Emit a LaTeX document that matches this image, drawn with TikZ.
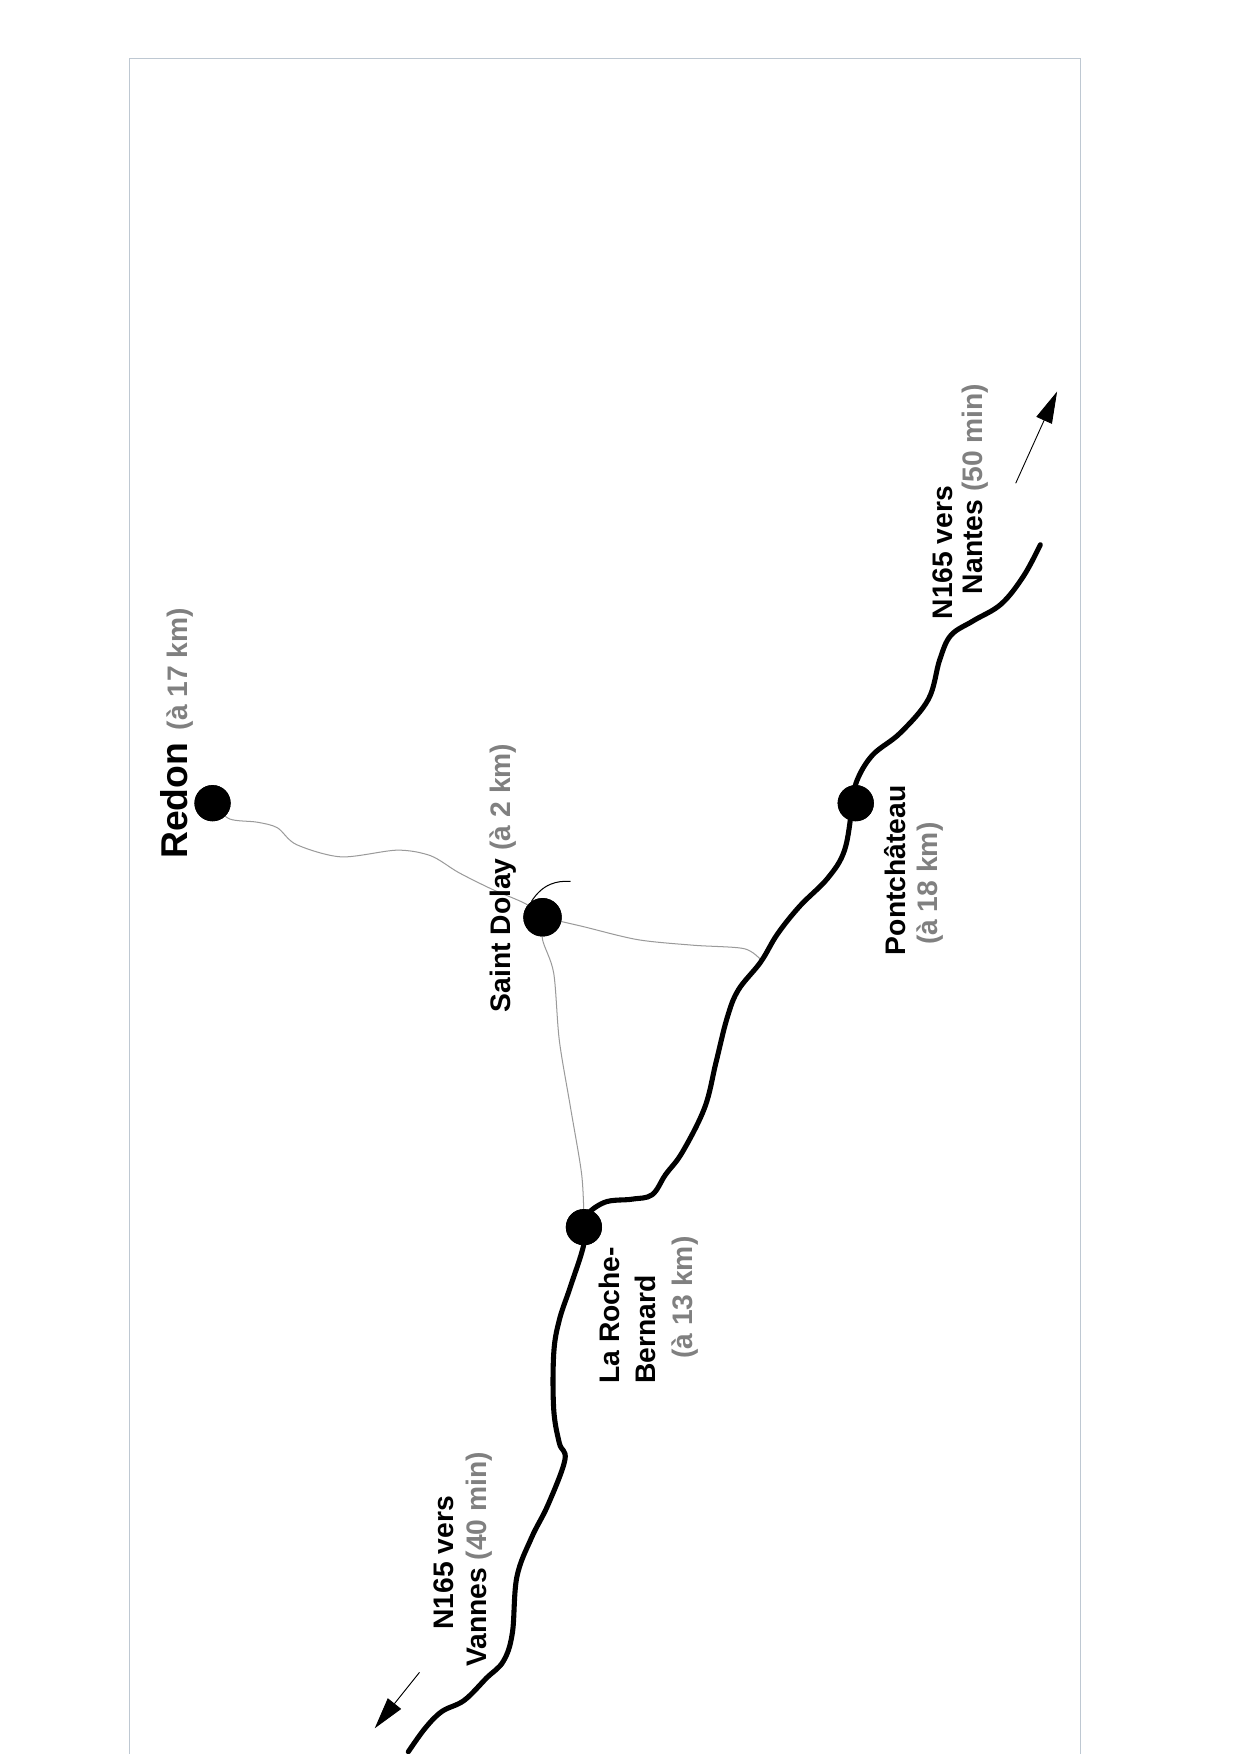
\documentclass[tikz,border=0pt]{standalone}
\usepackage{fontspec}
\setmainfont{Liberation Sans}
\usetikzlibrary{arrows.meta}
\definecolor{gr}{RGB}{128,128,128}
\definecolor{frame}{RGB}{190,200,210}
\begin{document}
\begin{tikzpicture}[x=0.99pt,y=-0.99pt,
  lbl/.style={rotate=90,font=\bfseries\fontsize{25}{29}\selectfont,inner sep=0},
  town/.style={circle,fill=black,minimum size=32pt,inner sep=0},
  mainroad/.style={line width=4.5pt,line cap=round,line join=round},
  minor/.style={gr!80,line width=0.9pt},
  dirarrow/.style={-{Triangle[length=28pt,width=15pt]},line width=0.8pt}]
\useasboundingbox (0,0) rectangle (1108,1568);
\draw[frame,line width=1pt] (116,52) rectangle (966,1580);
\node[town] (pc) at (765,718) {};
\node[town] (lrb) at (522,1097) {};
\node[town] (redon) at (190,718) {};
\node[town,minimum size=34pt] (sd) at (485,820) {};
\draw[minor] plot[smooth] coordinates {(190,718)(205,732)(230,735)(248,740)(265,755)(305,766)(355,760)(385,765)(410,780)(440,795)(470,808)(485,820)};
\draw[minor] plot[smooth] coordinates {(485,820)(520,828)(570,840)(620,845)(665,848)(680,858)};
\draw[minor] plot[smooth] coordinates {(485,820)(485,840)(495,870)(500,930)(510,990)(520,1050)(522,1090)};
\draw[black,line width=0.9pt] (475,806) .. controls (485,790) and (498,787) .. (510,788);
\draw[mainroad] plot[smooth,tension=0.6] coordinates {(930,487)(915,515)(895,540)(870,555)(850,568)(840,590)(830,625)(805,655)(780,675)(766,698)(762,720)(755,760)(740,785)(715,810)(695,835)(680,860)(660,885)(650,910)(640,950)(630,990)(610,1030)(595,1050)(583,1068)(565,1072)(540,1075)(522,1090)(522,1112)(510,1150)(500,1180)(495,1210)(495,1260)(500,1290)(505,1305)(490,1345)(475,1375)(462,1410)(458,1460)(450,1485)(435,1500)(415,1520)(395,1530)(380,1545)(365,1566)};
\node[town] at (pc) {};
\node[town] at (lrb) {};
\node[town] at (redon) {};
\node[town,minimum size=34pt] at (sd) {};
% labels
\node[lbl,anchor=west] (lredon) at (158,768) {{\fontsize{33}{37}\selectfont Redon}\, \textcolor{gr}{(à 17 km)}};
\node[lbl,anchor=west] (lsd) at (450,905) {Saint Dolay \textcolor{gr}{(à 2 km)}};
\node[lbl] (lpc1) at (800,778) {Pontchâteau};
\node[lbl,text=gr] (lpc2) at (831,790) {(à 18 km)};
\node[lbl,anchor=west] (llrb1) at (545,1237) {La Roche-};
\node[lbl,anchor=west] (llrb2) at (577,1237) {Bernard};
\node[lbl,anchor=west,text=gr] (llrb3) at (612,1215) {(à 13 km)};
\node[lbl] (lva1) at (397,1397) {N165 vers};
\node[lbl] (lva2) at (428,1394) {Vannes \textcolor{gr}{(40 min)}};
\node[lbl] (lna1) at (843,494) {N165 vers};
\node[lbl] (lna2) at (872,437) {Nantes \textcolor{gr}{(50 min)}};
\coordinate (a1s) at (375,1495); \coordinate (a1e) at (335,1545);
\coordinate (a2s) at (908,432); \coordinate (a2e) at (945,350);
\draw[dirarrow] (a1s) -- (a1e);
\draw[dirarrow] (a2s) -- (a2e);
\end{tikzpicture}
\end{document}
